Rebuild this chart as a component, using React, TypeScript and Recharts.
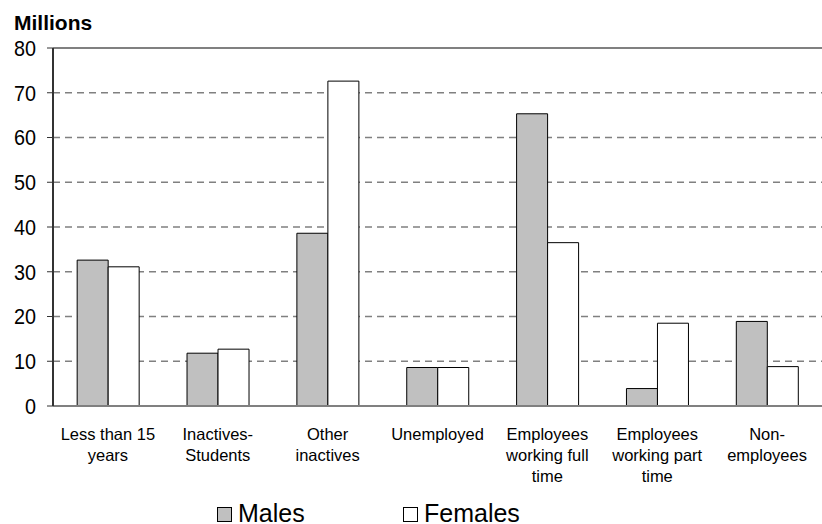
import React from "react";
import {
  Bar,
  BarChart,
  CartesianGrid,
  ReferenceLine,
  XAxis,
  YAxis,
} from "recharts";

const categories = [
  "Less than 15\nyears",
  "Inactives-\nStudents",
  "Other\ninactives",
  "Unemployed",
  "Employees\nworking full\ntime",
  "Employees\nworking part\ntime",
  "Non-\nemployees",
];
const males = [32.6, 11.8, 38.6, 8.6, 65.3, 3.9, 18.9];
const females = [31.1, 12.7, 72.6, 8.6, 36.5, 18.5, 8.8];
const yTicks = [0, 10, 20, 30, 40, 50, 60, 70, 80];

const data = categories.map((name, i) => ({
  name,
  males: males[i],
  females: females[i],
}));

const SANS = '"Liberation Sans", Arial, sans-serif';

function CategoryTick({ x, y, payload }: { x?: number; y?: number; payload?: { value: string } }) {
  const lines = String(payload?.value ?? "").split("\n");
  return (
    <text x={x} y={(y ?? 0) + 26} textAnchor="middle" fontFamily={SANS} fontSize={16.5} fill="#000">
      {lines.map((line, i) => (
        <tspan key={i} x={x} dy={i === 0 ? 0 : 21}>
          {line}
        </tspan>
      ))}
    </text>
  );
}

// value labels are a touch condensed in the original
function ValueTick({ x, y, payload }: { x?: number; y?: number; payload?: { value: number } }) {
  return (
    <g transform={`translate(${x},${y}) scale(0.9,1)`}>
      <text x={0} y={0} dy="0.355em" textAnchor="end" fontFamily={SANS} fontSize={22} fill="#000">
        {payload?.value}
      </text>
    </g>
  );
}

function ChartLegend() {
  const item = (fill: string, label: string, left: number) => (
    <div style={{ position: "absolute", left, top: 0, height: 17, display: "flex", alignItems: "flex-end" }}>
      <span
        style={{
          display: "inline-block",
          boxSizing: "border-box",
          width: 15,
          height: 15,
          background: fill,
          border: "1px solid #000",
          marginRight: 6,
        }}
      />
      <span style={{ fontFamily: SANS, fontSize: 25, lineHeight: "17px", color: "#000" }}>{label}</span>
    </div>
  );
  return (
    <div style={{ position: "absolute", left: 0, top: 505, width: 822, height: 18 }}>
      {item("#c0c0c0", "Males", 217)}
      {item("#ffffff", "Females", 403)}
    </div>
  );
}

export default function App() {
  return (
    <div style={{ position: "absolute", left: 0, top: 0, width: 822, height: 524, background: "#fff", overflow: "hidden" }}>
      <div
        style={{
          position: "absolute",
          left: 14,
          top: 12,
          fontFamily: SANS,
          fontWeight: "bold",
          fontSize: 21,
          lineHeight: "21px",
          color: "#000",
        }}
      >
        Millions
      </div>
      <BarChart
        width={822}
        height={524}
        data={data}
        margin={{ top: 48, right: 0, left: 0, bottom: 0 }}
        barCategoryGap="22%"
        barGap={0}
      >
        <CartesianGrid vertical={false} stroke="#808080" strokeWidth={1.5} strokeDasharray="7 5" />
        <ReferenceLine y={80} stroke="#808080" strokeWidth={2} />
        <XAxis
          dataKey="name"
          interval={0}
          tickLine={false}
          axisLine={{ stroke: "#808080", strokeWidth: 2 }}
          tick={<CategoryTick />}
          height={118}
        />
        <YAxis
          domain={[0, 80]}
          ticks={yTicks}
          interval={0}
          width={53}
          tickSize={6}
          tickMargin={11}
          tickLine={{ stroke: "#333" }}
          axisLine={{ stroke: "#333", strokeWidth: 2 }}
          tick={<ValueTick />}
        />
        <Bar dataKey="males" name="Males" fill="#c0c0c0" stroke="#000" strokeWidth={1} isAnimationActive={false} />
        <Bar dataKey="females" name="Females" fill="#ffffff" stroke="#000" strokeWidth={1} isAnimationActive={false} />
      </BarChart>
      <ChartLegend />
    </div>
  );
}
